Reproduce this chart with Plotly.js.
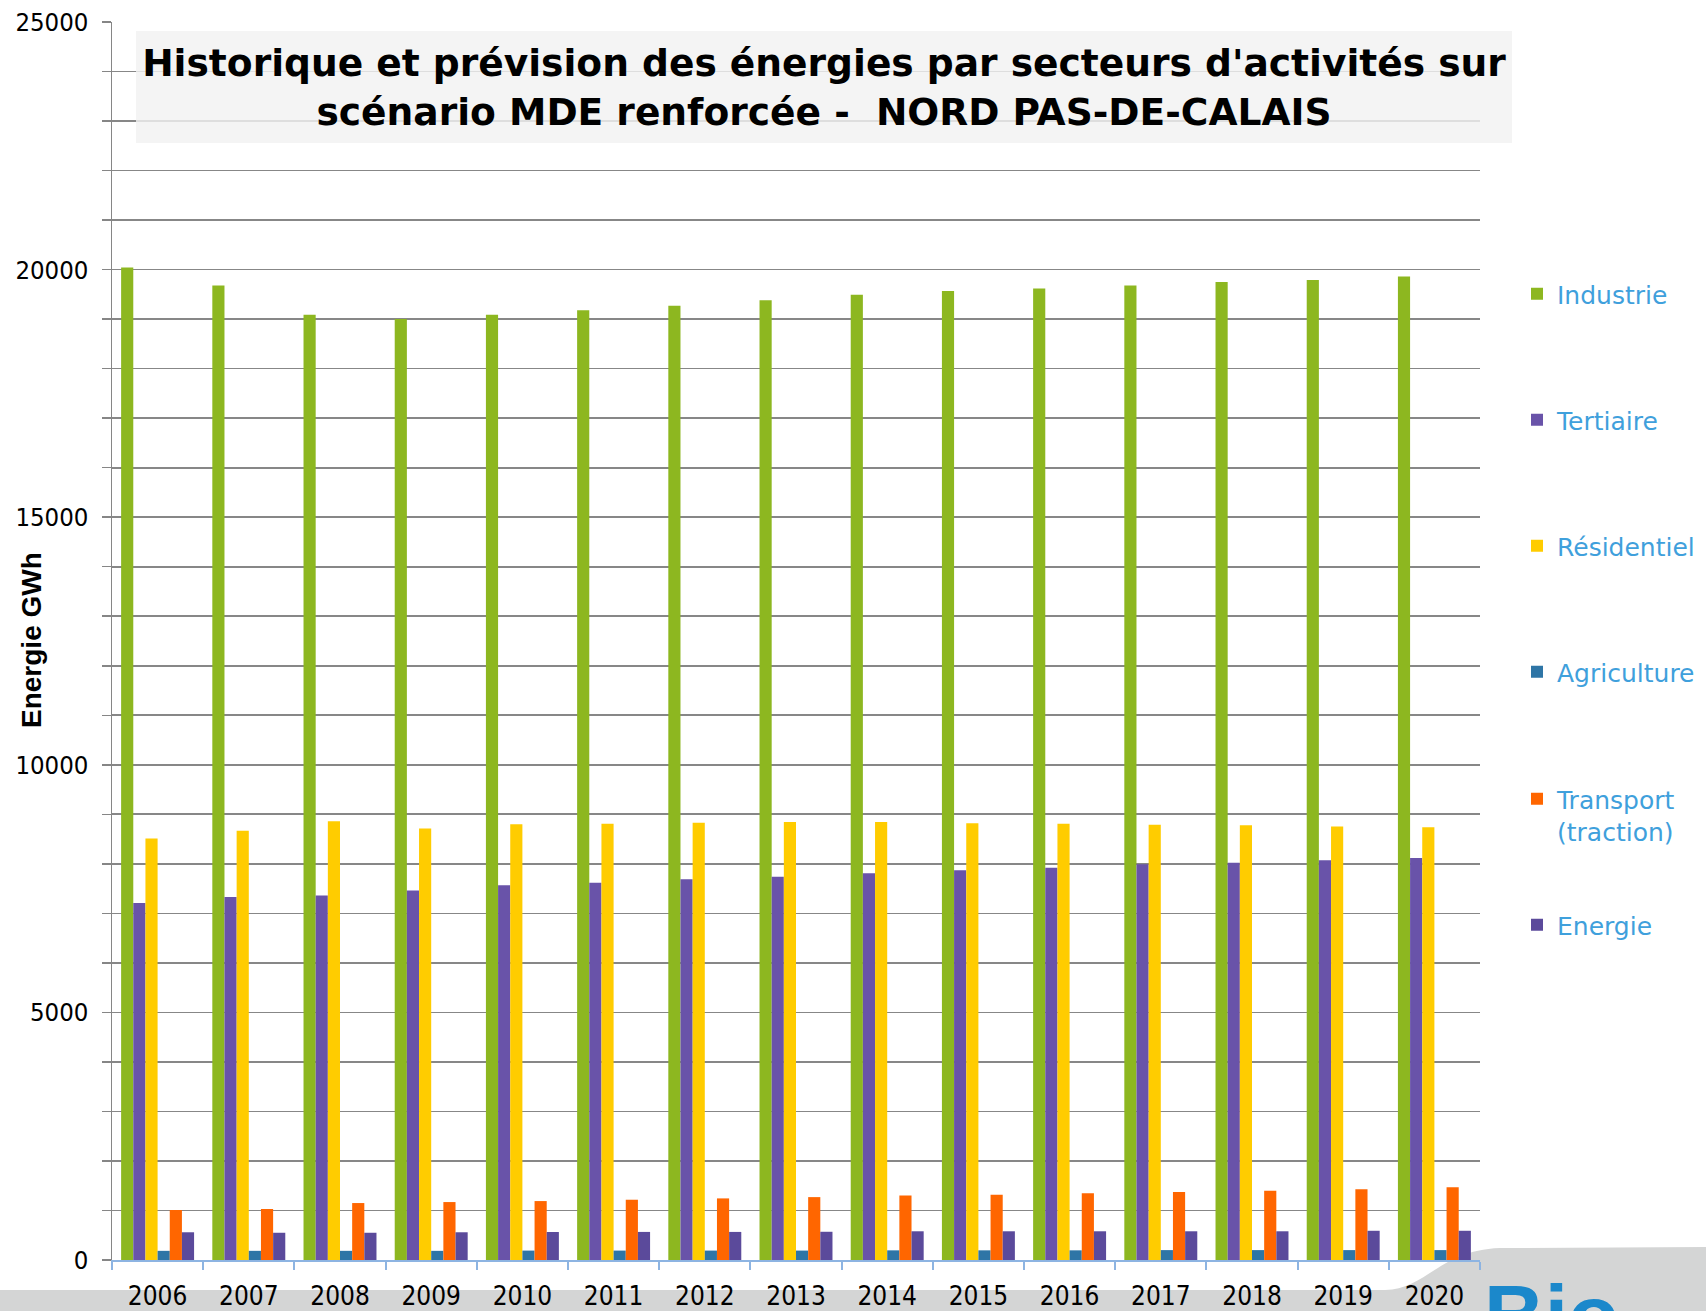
<!DOCTYPE html>
<html><head><meta charset="utf-8">
<script src="https://cdn.plot.ly/plotly-3.0.1.min.js"></script>
<style>html,body{margin:0;padding:0;background:#fff}</style>
</head><body><div id="chart" style="width:1706px;height:1311px"></div>
<script>
const years = ['2006','2007','2008','2009','2010','2011','2012','2013','2014','2015','2016','2017','2018','2019','2020'];
const industrie   = [20040,19680,19090,19000,19090,19180,19270,19380,19490,19570,19620,19680,19750,19790,19860];
const tertiaire   = [7210,7330,7360,7460,7570,7620,7690,7740,7810,7870,7920,7990,8020,8070,8120];
const residentiel = [8510,8670,8860,8715,8800,8810,8830,8845,8845,8820,8810,8790,8780,8756,8740];
const agriculture = [185,185,185,185,190,190,190,190,195,195,195,200,200,200,200];
const transport   = [1010,1030,1150,1170,1190,1217,1244,1270,1300,1320,1347,1374,1400,1430,1470];
const energie     = [560,550,550,560,565,567,567,570,580,580,580,580,580,590,590];
const seriesNames = ['Industrie','Tertiaire','Résidentiel','Agriculture','Transport<br>(traction)','Energie'];
const seriesValues = [industrie, tertiaire, residentiel, agriculture, transport, energie];
const colors = ['#8DB720','#6953A9','#FFCC00','#2E75A6','#FF6600','#5B4A9B'];
const titleText = "Historique et prévision des énergies par secteurs d'activités sur<br>scénario MDE renforcée - \u00a0NORD PAS-DE-CALAIS";
const yTitle = 'Energie GWh';

const W=1706, H=1311, L=112, R=226, T=22, B=51;
const pw = W-L-R, ph = H-T-B;
const px = x => (x-L)/pw;
const py = y => (H-B-y)/ph;
const legendTop = [271,397,523,649,776,902];

const traces = seriesNames.map((n,i)=>({
  type:'bar', name:n, x:years, y:seriesValues[i],
  marker:{color:colors[i]},
  legend: i===0 ? 'legend' : 'legend'+(i+1),
  hoverinfo:'x+y+name'
}));

const layout = {
  width:W, height:H,
  margin:{l:L, r:R, t:T, b:B, pad:0, autoexpand:false},
  showlegend:true,
  paper_bgcolor:'#ffffff', plot_bgcolor:'rgba(0,0,0,0)',
  barmode:'group', bargap:0.2, bargroupgap:0,
  title:{
    text:titleText, xref:'paper', x:px(824), xanchor:'center',
    yref:'container', y:1-76/H, yanchor:'top',
    font:{family:'DejaVu Sans, Verdana, sans-serif', size:37.6, weight:700, color:'#000'}
  },
  xaxis:{
    type:'category', tickson:'boundaries', ticks:'outside', ticklen:8, tickwidth:2,
    tickcolor:'#8DB4E2', showline:true, linecolor:'#8DB4E2', linewidth:2,
    showgrid:false, zeroline:false, ticklabelstandoff:12,
    tickfont:{family:'DejaVu Sans Condensed, Liberation Sans, sans-serif', size:26, color:'#000'}
  },
  yaxis:{
    range:[0,25000], tick0:0, dtick:5000, tickformat:'d', ticks:'outside', ticklen:9, tickwidth:1.5,
    tickcolor:'#868686', showline:true, linecolor:'#868686', linewidth:1.5,
    showgrid:true, gridcolor:'#878787', gridwidth:1.7, zeroline:false,
    ticklabelstandoff:8,
    tickfont:{family:'DejaVu Sans Condensed, Liberation Sans, sans-serif', size:25.5, color:'#000'},
    minor:{dtick:1000, tick0:0, ticks:'outside', ticklen:9, tickwidth:1.5, tickcolor:'#868686',
      showgrid:true, gridcolor:'#878787', gridwidth:1.7}
  },
  shapes:[
    {type:'rect', xref:'paper', yref:'paper', layer:'above',
     x0:px(136), x1:px(1512), y0:py(143), y1:py(31),
     fillcolor:'rgba(241,241,241,0.82)', line:{width:0}},
    {type:'path', xref:'paper', yref:'paper', layer:'below',
     path:'M '+px(-5)+','+py(1290)+' L '+px(1385)+','+py(1290)+
          ' C '+px(1425)+','+py(1290)+' '+px(1440)+','+py(1250)+' '+px(1500)+','+py(1248)+
          ' L '+px(1715)+','+py(1247)+' L '+px(1715)+','+py(1320)+' L '+px(-5)+','+py(1320)+' Z',
     fillcolor:'#D4D5D5', line:{width:0}}
  ],
  annotations:[
    {text:yTitle, textangle:-90, xref:'paper', yref:'paper', x:px(31), y:py(640),
     xanchor:'center', yanchor:'middle', showarrow:false,
     font:{family:'Liberation Sans, Arial, sans-serif', size:28, weight:700, color:'#000'}},
    {text:'Bio', xref:'paper', yref:'paper', x:px(1482), y:py(1266),
     xanchor:'left', yanchor:'top', showarrow:false,
     font:{family:'Liberation Sans, Arial, sans-serif', size:84, weight:700, color:'#1B88CB'}}
  ]
};
seriesNames.forEach((n,i)=>{
  const key = i===0 ? 'legend' : 'legend'+(i+1);
  layout[key] = {
    x:px(1517), xanchor:'left', xref:'paper', y:py(legendTop[i]), yanchor:'top', yref:'paper',
    bgcolor:'rgba(0,0,0,0)', borderwidth:0, valign:'top',
    font:{family:'DejaVu Sans, Verdana, sans-serif', size:25, color:'#3FA0DC'}
  };
});
Plotly.newPlot('chart', traces, layout, {displayModeBar:false, staticPlot:true});
</script></body></html>
